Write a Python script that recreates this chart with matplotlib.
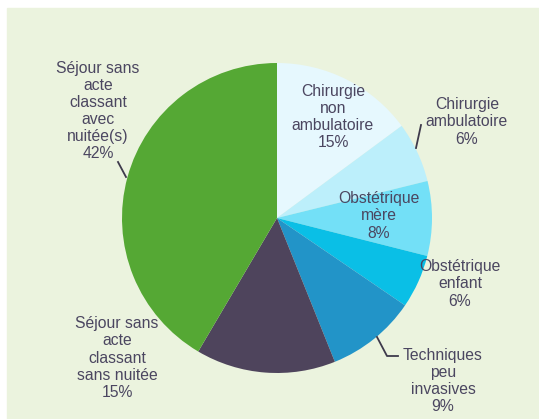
import matplotlib.pyplot as plt
from matplotlib.patches import Rectangle

# slices, clockwise from 12 o'clock
categories = [
    "Chirurgie\nnon\nambulatoire",
    "Chirurgie\nambulatoire",
    "Obstétrique\nmère",
    "Obstétrique\nenfant",
    "Techniques\npeu\ninvasives",
    "Séjour sans\nacte\nclassant\nsans nuitée",
    "Séjour sans\nacte\nclassant\navec\nnuitée(s)",
]
values = [14.9, 6.3, 7.8, 5.6, 9.4, 14.6, 41.6]
colors = ["#E6F8FE", "#BCEFFB", "#73E0F7", "#0ABFE6", "#2294C8", "#4E445C", "#55A834"]

W, H = 539, 419
txt_color = "#4B4660"
bg = "#EBF3DE"

fig = plt.figure(figsize=(W / 100, H / 100), dpi=100)
fig.patch.set_facecolor("white")
ax = fig.add_axes([0, 0, 1, 1])
ax.add_patch(Rectangle((7, 0), W - 7, H - 8, color=bg, zorder=0))

cx, cy, r = 277, H - 218, 155
wedges, _ = ax.pie(values, colors=colors, startangle=90, counterclock=False,
                   center=(cx, cy), radius=r, frame=True,
                   wedgeprops=dict(linewidth=0))
ax.set_xlim(0, W)
ax.set_ylim(0, H)
ax.set_aspect("auto")
ax.axis("off")

# label centres in picture pixels (x, y from top)
label_pos = [(333, 117), (467, 122), (379, 216), (460, 284),
             (443, 381), (117, 358), (98, 111)]
for cat, v, (lx, ly) in zip(categories, values, label_pos):
    ax.text(lx, H - ly, f"{cat}\n{v:.0f}%", ha="center", va="center",
            fontsize=11.3, family="Liberation Sans", color=txt_color,
            linespacing=1.17, zorder=5)

# leader lines
lc = dict(color="#3E3A4C", lw=1.3, zorder=4)
ax.plot([416, 421], [H - 148, H - 125], **lc)
ax.plot([118, 126], [H - 162, H - 177], **lc)
ax.plot([377, 387, 398], [H - 337, H - 356, H - 356], **lc)

fig.savefig("out.png", dpi=100, facecolor=fig.get_facecolor())
